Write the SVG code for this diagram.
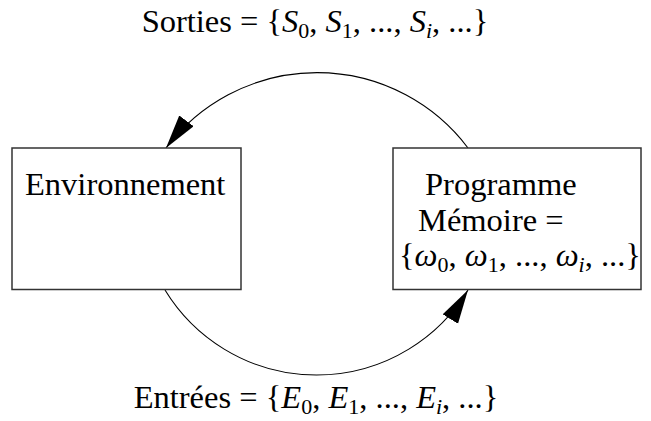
<svg xmlns="http://www.w3.org/2000/svg" width="651" height="421" viewBox="0 0 651 421">
<style>
.box{fill:#fff;stroke:#333;stroke-width:1.5}
.t{font-family:"Liberation Serif","Times New Roman",serif;font-size:32.5px;fill:#000}
.m{font-style:italic}
.sub{font-size:22px}
.arc{fill:none;stroke:#000;stroke-width:1.1}
</style>
<defs>
<marker id="ah" markerUnits="userSpaceOnUse" markerWidth="36" markerHeight="20" refX="34" refY="9" orient="auto" viewBox="0 0 36 20">
<path d="M0,0 L34,9 L0,18 z" fill="#000"/>
</marker>
</defs>
<rect width="651" height="421" fill="#fff"/>
<g id="connectors">
<path class="arc" d="M468,148 A189,189 0 0,0 166,148" marker-end="url(#ah)"/>
<path class="arc" d="M165,290 A177.5,177.5 0 0,0 468,290" marker-end="url(#ah)"/>
</g>
<g id="environnement">
<rect class="box" x="12" y="148" width="229" height="141.5"/>
<text class="t" x="25" y="195">Environnement</text>
</g>
<g id="programme">
<rect class="box" x="393" y="148" width="248" height="141.5"/>
<text class="t" x="425" y="195">Programme</text>
<text class="t" x="418" y="231">Mémoire =</text>
<text class="t" x="399" y="266">{<tspan class="m">ω</tspan><tspan class="sub" dy="6">0</tspan><tspan dy="-6">, </tspan><tspan class="m">ω</tspan><tspan class="sub" dy="6">1</tspan><tspan dy="-6">, ..., </tspan><tspan class="m">ω</tspan><tspan class="sub m" dy="6">i</tspan><tspan dy="-6">, ...}</tspan></text>
</g>
<g id="sorties">
<text class="t" x="315" y="32" text-anchor="middle">Sorties = {<tspan class="m">S</tspan><tspan class="sub" dy="6">0</tspan><tspan dy="-6">, </tspan><tspan class="m">S</tspan><tspan class="sub" dy="6">1</tspan><tspan dy="-6">, ..., </tspan><tspan class="m">S</tspan><tspan class="sub m" dy="6">i</tspan><tspan dy="-6">, ...}</tspan></text>
</g>
<g id="entrees">
<text class="t" x="316" y="408" text-anchor="middle">Entrées = {<tspan class="m">E</tspan><tspan class="sub" dy="6">0</tspan><tspan dy="-6">, </tspan><tspan class="m">E</tspan><tspan class="sub" dy="6">1</tspan><tspan dy="-6">, ..., </tspan><tspan class="m">E</tspan><tspan class="sub m" dy="6">i</tspan><tspan dy="-6">, ...}</tspan></text>
</g>
</svg>
